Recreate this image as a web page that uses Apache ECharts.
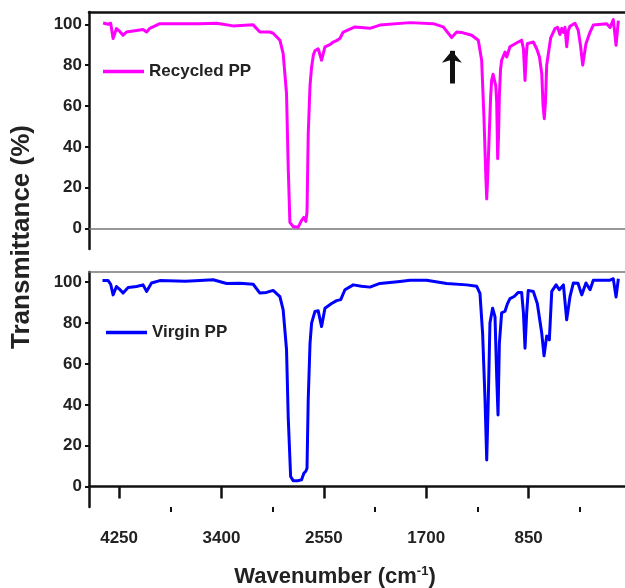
<!DOCTYPE html>
<html>
<head>
<meta charset="utf-8">
<script src="https://cdn.jsdelivr.net/npm/echarts@6/dist/echarts.min.js"></script>
<style>
  html, body { margin: 0; padding: 0; background: #fff; }
  #chart { width: 625px; height: 588px; }
</style>
</head>
<body>
<div id="chart"></div>
<script>
// FTIR spectra: wavenumber (cm-1) vs transmittance (%)
const recycledWn = [4383,4341,4320,4300,4272,4245,4217,4189,4134,4051,4022,3995,3912,3718,3580,3441,3303,3137,3081,2998,2971,2915,2888,2860,2846,2832,2805,2763,2735,2716,2700,2690,2680,2665,2652,2637,2624,2597,2569,2541,2500,2472,2445,2417,2389,2292,2168,2085,1835,1642,1559,1489,1447,1393,1323,1268,1240,1221,1205,1198,1190,1179,1165,1157,1145,1135,1123,1115,1107,1100,1093,1083,1074,1046,1032,1005,936,908,893,880,868,861,811,783,760,741,730,720,710,700,690,667,631,610,590,575,560,548,534,520,507,465,438,420,401,374,340,313,202,174,147,124,105];
const recycledT  = [100.6,100,100.5,93,97.9,96.5,94.6,96.2,96.7,97.4,96.2,98,100.3,100.3,100.2,100.5,99.2,99.7,96.2,96.2,95.6,92.2,85.6,66,30,3,1,0.7,4,5.5,3.5,8,46,70,79,85,87,88,82.4,88.9,90,91.3,92,93,96.2,98.7,98,99.6,100.8,100.3,98.7,93.5,96.2,95.8,94.6,92.2,82.4,54.6,25,14.5,25,43,65,72.5,75.5,75,70,62,34.2,45,65,78,82.4,86.4,84,89,91.3,92.2,88,72.5,86,90.5,91.3,88,84,75.8,60,53.8,62,80,80,93.3,97.9,98.5,95,98,96,98.5,89,97,99,100.5,97,90,80,90.5,96.2,99.6,100.3,98.4,102.3,89.7,101.8];

const virginWn = [4388,4341,4320,4300,4272,4245,4217,4175,4105,4051,4022,3981,3912,3700,3580,3469,3358,3250,3137,3081,3026,2971,2915,2888,2860,2846,2826,2805,2763,2735,2716,2700,2690,2680,2665,2652,2624,2597,2569,2541,2486,2444,2410,2375,2306,2237,2168,2085,1918,1835,1697,1531,1364,1281,1254,1232,1212,1198,1185,1171,1149,1129,1115,1104,1093,1074,1046,1027,1005,970,936,908,893,880,866,853,811,778,741,722,700,678,658,622,595,561,534,507,479,440,409,374,340,313,174,147,124,105];
const virginT  = [100.8,100.8,99,93.8,97.9,96.5,94.7,97.4,97.9,98.7,95.5,99.6,100.8,100.5,100.8,101.2,99.4,99.5,99,94.7,95,96,93,86.5,67,34,4.9,2.9,2.9,3.3,6.5,7.5,9,42.4,70,80,85.7,86,78.3,87.3,89.6,91,91.5,96.3,98.7,98,97.6,99.4,100.4,101,101,99.4,98.7,98,94.5,75,42.4,13,42.4,80,87.3,83,53.8,35,70,85,85.8,89.3,92,93,95,95,85,67.7,85,96,95.5,89.6,75,64,73.7,71.8,95.5,98.7,96.3,98.7,81.6,92.8,99.6,99.5,93.8,99.6,96.3,101,101,101.7,92.8,101.7];

// Tick labels and tick positions
const yTickValues = [0, 20, 40, 60, 80, 100];
const xMajorTicks = [4250, 3400, 2550, 1700, 850];
const xMinorTicks = [3825, 2975, 2125, 1275, 425];

// Arrow annotation on the recycled spectrum (wavenumber, transmittance from/to)
const arrowWn = 1487;
const arrowFrom = 71;
const arrowTo = 87;

const seriesNames = ['Recycled PP', 'Virgin PP'];
const seriesColors = ['#ff00ff', '#0000ff'];

const pairs = (xs, ys) => xs.map((x, i) => [x, ys[i]]);

const FONT = "'Liberation Sans', Arial, sans-serif";
const XMIN = 0, XMAX = 4500;

const chart = echarts.init(document.getElementById('chart'), null, { renderer: 'canvas' });

const baseX = {
  type: 'value', min: XMIN, max: XMAX, inverse: true,
  splitLine: { show: false }
};

const legendText = { fontFamily: FONT, fontWeight: 'bold', fontSize: 17, color: '#222' };

const option = {
  animation: false,
  backgroundColor: '#fff',
  grid: [
    { left: 89, right: -6, top: 12, height: 237, outerBoundsMode: 'none', containLabel: false },
    { left: 89, right: -6, top: 272, height: 235, outerBoundsMode: 'none', containLabel: false }
  ],
  legend: [
    {
      data: [seriesNames[0]], left: 103, top: 63, padding: 0, icon: 'rect', itemWidth: 41, itemHeight: 3.5, itemGap: 4,
      textStyle: legendText
    },
    {
      data: [seriesNames[1]], left: 106, top: 324, padding: 0, icon: 'rect', itemWidth: 41, itemHeight: 3.5, itemGap: 4,
      textStyle: legendText
    }
  ],
  xAxis: [
    // top panel: lower frame edge
    Object.assign({}, baseX, {
      gridIndex: 0, position: 'bottom',
      axisLine: { show: true, lineStyle: { color: '#777', width: 1.5 } },
      axisTick: { show: false }, axisLabel: { show: false }
    }),
    // top panel: upper frame edge
    Object.assign({}, baseX, {
      gridIndex: 0, position: 'top',
      axisLine: { show: true, lineStyle: { color: '#111', width: 2.5 } },
      axisTick: { show: false }, axisLabel: { show: false }
    }),
    // bottom panel: wavenumber axis with major ticks and labels
    Object.assign({}, baseX, {
      gridIndex: 1, position: 'bottom',
      axisLine: { show: true, lineStyle: { color: '#111', width: 2.5 } },
      axisTick: { show: true, customValues: xMajorTicks, length: 12, lineStyle: { color: '#111', width: 2.5 } },
      axisLabel: {
        show: true, customValues: xMajorTicks, margin: 23, formatter: v => String(v),
        fontFamily: FONT, fontWeight: 'bold', fontSize: 17, color: '#222'
      }
    }),
    // bottom panel: minor ticks
    Object.assign({}, baseX, {
      gridIndex: 1, position: 'bottom',
      axisLine: { show: false },
      axisTick: { show: true, customValues: xMinorTicks, length: 5, lineStyle: { color: '#111', width: 2 } },
      axisLabel: { show: false }
    }),
    // bottom panel: upper frame edge
    Object.assign({}, baseX, {
      gridIndex: 1, position: 'top',
      axisLine: { show: true, lineStyle: { color: '#777', width: 1.5 } },
      axisTick: { show: false }, axisLabel: { show: false }
    })
  ],
  yAxis: [0, 1].map(g => ({
    type: 'value', gridIndex: g, position: 'left', min: -10, max: g === 0 ? 106 : 105,
    splitLine: { show: false },
    axisLine: { show: true, onZero: false, lineStyle: { color: '#111', width: 2.5 } },
    axisTick: { show: true, customValues: yTickValues, length: 4, lineStyle: { color: '#111', width: 2 } },
    axisLabel: {
      show: true, customValues: yTickValues, margin: 7,
      fontFamily: FONT, fontWeight: 'bold', fontSize: 17, color: '#222'
    }
  })),
  series: [
    {
      name: seriesNames[0], type: 'line', xAxisIndex: 0, yAxisIndex: 0,
      data: pairs(recycledWn, recycledT),
      showSymbol: false, symbol: 'none',
      lineStyle: { color: seriesColors[0], width: 3, join: 'round' },
      itemStyle: { color: seriesColors[0] },
      markLine: {
        silent: true, symbol: ['none', 'arrow'], symbolSize: [15, 12],
        label: { show: false },
        lineStyle: { color: '#111', width: 5, type: 'solid' },
        data: [[{ coord: [arrowWn, arrowFrom] }, { coord: [arrowWn, arrowTo] }]]
      }
    },
    {
      name: seriesNames[1], type: 'line', xAxisIndex: 2, yAxisIndex: 1,
      data: pairs(virginWn, virginT),
      showSymbol: false, symbol: 'none',
      lineStyle: { color: seriesColors[1], width: 3, join: 'round' },
      itemStyle: { color: seriesColors[1] }
    }
  ],
  graphic: [
    {
      type: 'text', x: 22, y: 237, rotation: Math.PI / 2,
      style: {
        text: 'Transmittance (%)', fontFamily: FONT, fontWeight: 'bold', fontSize: 26,
        fill: '#222', align: 'center', verticalAlign: 'middle'
      }
    },
    {
      type: 'text', x: 335, y: 577,
      style: {
        text: '{a|Wavenumber (cm}{s|-1}{a|)}',
        align: 'center', verticalAlign: 'middle',
        rich: {
          a: { fontFamily: FONT, fontWeight: 'bold', fontSize: 22, fill: '#222', lineHeight: 26 },
          s: { fontFamily: FONT, fontWeight: 'bold', fontSize: 13, fill: '#222', padding: [0, 0, 12, 0] }
        }
      }
    }
  ]
};

chart.setOption(option);
</script>
</body>
</html>
